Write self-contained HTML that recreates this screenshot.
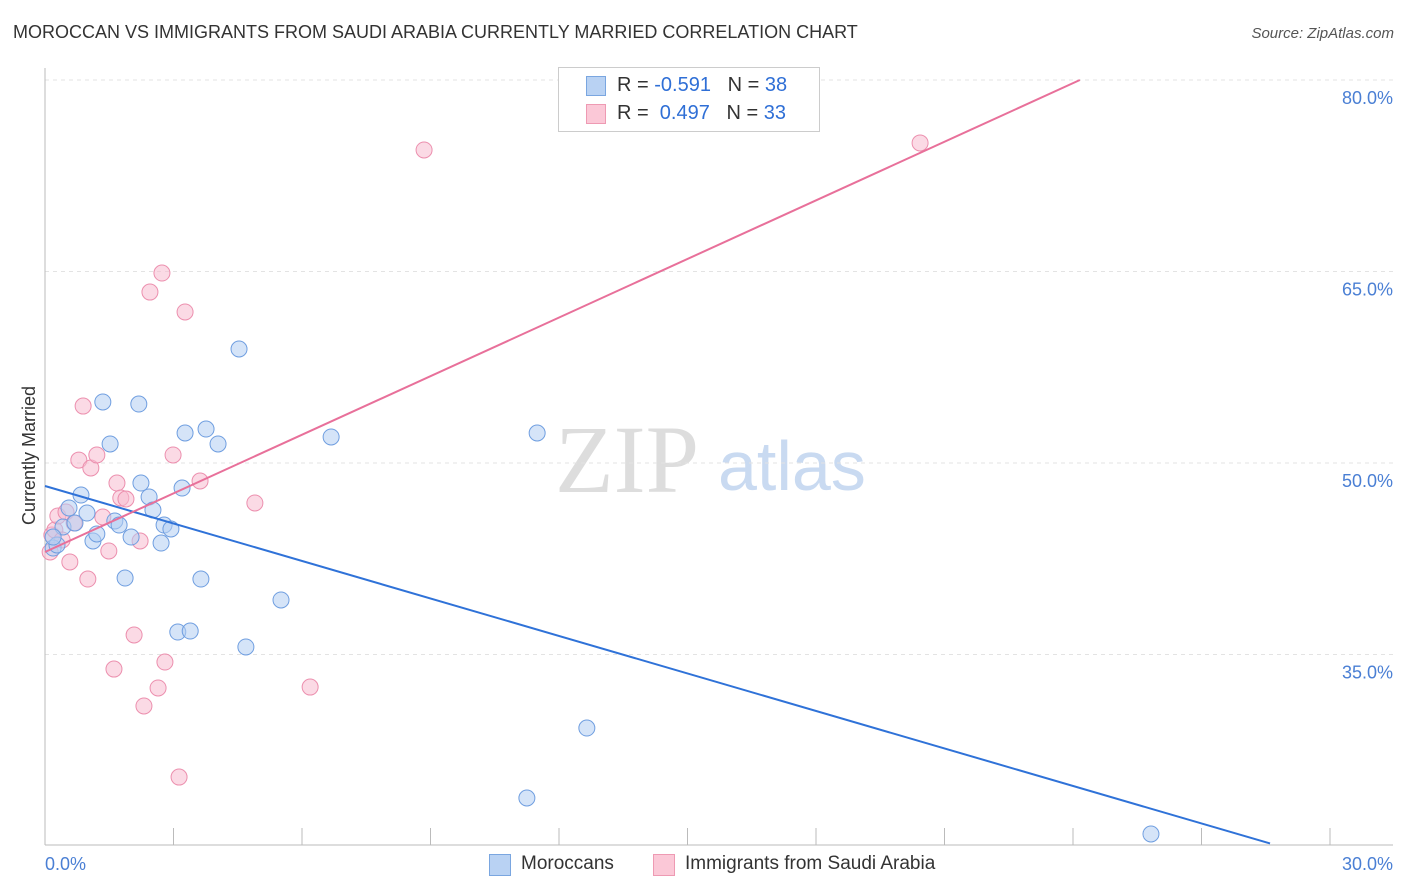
<!DOCTYPE html>
<html><head><meta charset="utf-8"><style>
body{margin:0;background:#fff;font-family:"Liberation Sans",sans-serif;}
#wrap{position:relative;width:1406px;height:892px;overflow:hidden;}
.t{position:absolute;white-space:nowrap;}
</style></head><body><div id="wrap">
<div class="t" style="left:13px;top:22px;font-size:18px;color:#333;">MOROCCAN VS IMMIGRANTS FROM SAUDI ARABIA CURRENTLY MARRIED CORRELATION CHART</div>
<div class="t" style="right:12px;top:25px;font-size:15px;color:#555;font-style:italic;">Source: ZipAtlas.com</div>
<svg id="plot" width="1406" height="892" style="position:absolute;left:0;top:0">
<text x="555" y="492" font-family="Liberation Serif,serif" font-size="96" fill="#ddd">ZIP</text>
<text x="718" y="490" font-family="Liberation Sans,sans-serif" font-size="70" fill="#c9daf1">atlas</text>
</svg>
<div class="t" style="left:-40px;top:445px;font-size:18px;color:#333;transform:rotate(-90deg);">Currently Married</div>
<div style="position:absolute;left:558px;top:67px;width:260px;height:63px;border:1px solid #ccc;background:#fff;font-size:20px;">
<div style="position:absolute;left:27px;top:8px;width:18px;height:18px;background:#b9d2f3;border:1px solid #7aa6e0"></div>
<div class="t" style="left:58px;top:6px;color:#333">R = <span style="color:#2f6fd6">-0.591</span>&nbsp;&nbsp;&nbsp;N = <span style="color:#2f6fd6">38</span></div>
<div style="position:absolute;left:27px;top:36px;width:18px;height:18px;background:#fbc8d7;border:1px solid #ee9ab3"></div>
<div class="t" style="left:58px;top:34px;color:#333">R = &nbsp;<span style="color:#2f6fd6">0.497</span>&nbsp;&nbsp;&nbsp;N = <span style="color:#2f6fd6">33</span></div>
</div>
<div style="position:absolute;left:489px;top:854px;width:20px;height:20px;background:#b9d2f3;border:1px solid #7aa6e0"></div>
<div class="t" style="left:521px;top:853px;font-size:19px;color:#333">Moroccans</div>
<div style="position:absolute;left:653px;top:854px;width:20px;height:20px;background:#fbc8d7;border:1px solid #ee9ab3"></div>
<div class="t" style="left:685px;top:853px;font-size:19px;color:#333">Immigrants from Saudi Arabia</div>
</div>
<script>
const blueX=[0.19,0.28,0.42,0.56,0.70,0.84,0.98,1.12,1.21,1.35,1.52,1.63,1.73,1.87,2.01,2.19,2.24,2.43,2.52,2.71,2.78,2.94,3.10,3.20,3.27,3.39,3.64,3.76,4.04,4.53,4.69,5.51,6.68,11.25,11.49,12.65,25.82,0.19];
const blueY=[43.34,43.58,44.99,46.48,45.30,47.49,46.08,43.89,44.44,54.78,51.49,45.46,45.14,40.99,44.20,54.62,48.43,47.34,46.32,43.73,45.14,44.83,36.76,48.04,52.35,36.84,40.91,52.66,51.49,58.93,35.59,39.27,52.04,23.76,52.35,29.24,20.94,44.20];
const pinkX=[0.12,0.16,0.23,0.30,0.40,0.49,0.58,0.68,0.79,0.89,1.00,1.07,1.21,1.35,1.49,1.61,1.68,1.77,1.89,2.08,2.22,2.31,2.45,2.64,2.73,2.80,2.99,3.13,3.27,3.62,4.90,6.19,8.85,20.43];
const pinkY=[43.03,44.36,44.75,45.85,43.97,46.16,42.25,45.30,50.23,54.46,40.91,49.61,50.63,45.77,43.11,33.86,48.43,47.26,47.18,36.53,43.89,30.97,63.39,32.38,64.88,34.41,50.63,25.40,61.83,48.59,46.87,32.45,74.52,75.07];
const blueLine=[[0,48.2],[28.6,20.2]];
const pinkLine=[[0,43.03],[24.16,80.0]];
const yTicks=[80,65,50,35];
const yTickLabels=["80.0%","65.0%","50.0%","35.0%"];
const xEndLabels=["0.0%","30.0%"];
const NS="http://www.w3.org/2000/svg";
const sx=v=>45+v/30*1285;
const sy=v=>463-(v-50)/15*191.5;
const svg=document.getElementById('plot');
function mk(tag,a){const e=document.createElementNS(NS,tag);for(const k in a)e.setAttribute(k,a[k]);svg.appendChild(e);return e;}
yTicks.forEach((t,i)=>{
 const g=mk('line',{x1:45,x2:1393,y1:sy(t),y2:sy(t),stroke:'#e3e3e3','stroke-dasharray':'4,4'});
 
 
 const tx=mk('text',{x:1393,y:sy(t)+24,'text-anchor':'end','font-size':18,fill:'#4a7fd4','font-family':'Liberation Sans,sans-serif'});
 tx.textContent=yTickLabels[i];
 
 
});
let ax=mk('line',{x1:45,x2:45,y1:68,y2:845,stroke:'#bbb'});


let bx=mk('line',{x1:45,x2:1393,y1:845,y2:845,stroke:'#bbb'});


for(let i=0;i<=10;i++){
 const tk=mk('line',{x1:sx(i*3),x2:sx(i*3),y1:828,y2:845,stroke:'#bbb'});
 
 
}
[[0,'start',45],[30,'end',1393]].forEach((p,i)=>{
 const tx=mk('text',{x:p[2],y:870,'text-anchor':p[1],'font-size':18,fill:'#4a7fd4','font-family':'Liberation Sans,sans-serif'});
 tx.textContent=xEndLabels[i];
 
 
});
function pts(X,Y,fill,stroke,name){X.forEach((x,i)=>{
 const c=mk('circle',{cx:sx(x),cy:sy(Y[i]),r:8,fill:fill,'fill-opacity':0.55,stroke:stroke,'stroke-width':1});
 
 
});}
pts(pinkX,pinkY,'#f8bcd0','#ec8fae','point-saudi');
pts(blueX,blueY,'#b3cdf2','#6f9ee0','point-moroccan');
const bl=mk('line',{x1:sx(blueLine[0][0]),y1:sy(blueLine[0][1]),x2:sx(blueLine[1][0]),y2:sy(blueLine[1][1]),stroke:'#2f72d8','stroke-width':2});


const pl=mk('line',{x1:sx(pinkLine[0][0]),y1:sy(pinkLine[0][1]),x2:sx(pinkLine[1][0]),y2:sy(pinkLine[1][1]),stroke:'#e8709a','stroke-width':2});


</script>
</body></html>
